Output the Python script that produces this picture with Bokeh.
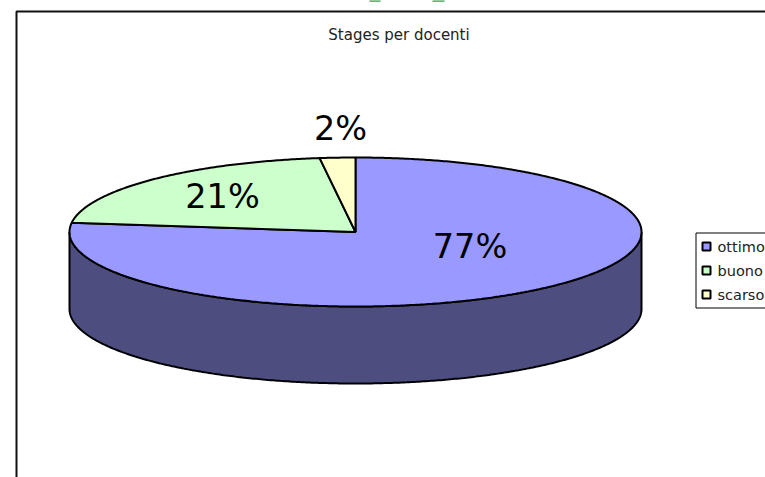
import numpy as np
from bokeh.plotting import figure
from bokeh.embed import file_html
from bokeh.resources import INLINE
from bokeh.core.properties import value

categories = ["ottimo", "buono", "scarso"]
shares = [77, 21, 2]
top_colors = ["#9999FF", "#CCFFCC", "#FFFFCC"]
side_color = "#4D4D80"
title = "Stages per docenti"

W, H = 765, 477
CX, CY, RX, RY, DEPTH = 355, 231.5, 286, 74.5, 77
FONT = value("DejaVu Sans")

p = figure(width=W, height=H, x_range=(0, W), y_range=(H, 0), output_backend="svg",
           toolbar_location=None, min_border=0, outline_line_color=None,
           background_fill_color="white", border_fill_color="white")
p.axis.visible = False
p.grid.visible = False


def rim(start, stop):
    """Points on the pie's top ellipse, angles in degrees clockwise from twelve o'clock."""
    t = np.radians(np.linspace(start, stop, max(int(abs(stop - start)) * 2, 2)))
    return CX + RX * np.sin(t), CY - RY * np.cos(t)


# Tips of the green page heading that ends just above the chart frame
p.quad(left=[369, 432], right=[380, 444], top=[-1, -1], bottom=[1.2, 1.2],
       fill_color="#2F9A45", line_color=None)

# Chart frame, open towards the right and bottom of the page
p.line([16, 16, W + 5], [H + 5, 11, 11], line_color="#111111", line_width=2)

p.text([398.5], [34], text=[title], text_font=FONT, text_font_size="15px",
       text_color="#222222", text_align="center", text_baseline="middle")

# Slice angles from the values
edges = np.cumsum([0] + shares) / sum(shares) * 360

# Side wall: only the near half of the ellipse faces the viewer
sx, sy = rim(90, 270)
wx = np.concatenate([sx, sx[::-1]])
wy = np.concatenate([sy, sy[::-1] + DEPTH])
p.patch(wx, wy, fill_color=side_color, line_color="black", line_width=2)

# Top face
for a, b, color in zip(edges[:-1], edges[1:], top_colors):
    x, y = rim(a, b)
    p.patch(np.r_[CX, x], np.r_[CY, y], fill_color=color, line_color="black", line_width=2)

# Percentage labels
label_x = [469.5, 222, 340]
label_y = [246, 196, 128]
p.text(label_x, label_y, text=[f"{s}%" for s in shares], text_font=FONT, text_font_size="33.5px",
       text_color="black", text_align="center", text_baseline="middle")

# Legend, running off the right edge of the page
p.quad(left=[695.5], right=[W + 5], top=[232.5], bottom=[307.5], fill_color="white",
       line_color="black", line_width=1)
rows = [246, 270, 294]
p.rect([706] * 3, rows, width=8, height=8, fill_color=top_colors, line_color="black", line_width=2)
p.text([717] * 3, rows, text=categories, text_font=FONT, text_font_size="14.5px",
       text_color="#222222", text_baseline="middle")

open("out.html", "w").write(file_html(p, INLINE))
